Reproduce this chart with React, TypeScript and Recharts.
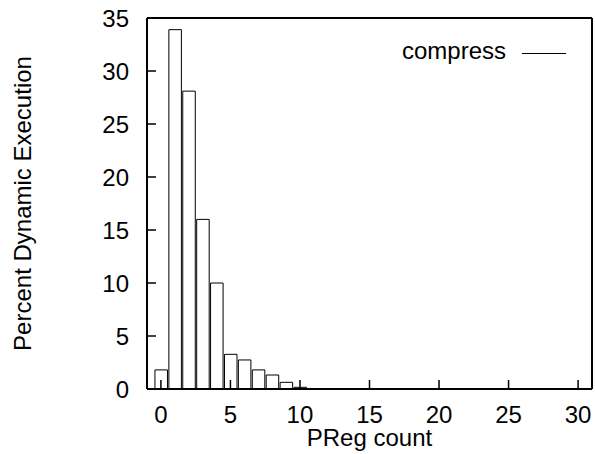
import React from 'react';
import { BarChart, Bar, XAxis, YAxis, Legend } from 'recharts';

const pregCounts = [0, 1, 2, 3, 4, 5, 6, 7, 8, 9, 10];
const percentExec = [1.8, 33.9, 28.1, 16.0, 10.0, 3.27, 2.74, 1.8, 1.32, 0.63, 0.16];
const xTicks = [0, 5, 10, 15, 20, 25, 30];
const yTicks = [0, 5, 10, 15, 20, 25, 30, 35];
const seriesName = 'compress';
const xLabel = 'PReg count';
const yLabel = 'Percent Dynamic Execution';

const data = pregCounts.map((c, i) => ({ count: c, value: percentExec[i] }));

const W = 595;
const H = 454;
const LEFT = 147;
const RIGHT = 3;
const TOP = 18;
const BOTTOM = 65;
const XMIN = -1;
const XMAX = 31;
const PLOT_W = W - LEFT - RIGHT;
const FONT = '"Liberation Sans", Arial, Helvetica, sans-serif';
const FS = 24;

const tickStyle = { fontFamily: FONT, fontSize: FS, fill: '#000' };
const axisLineStyle = { stroke: '#000', strokeWidth: 2 };
const tickLineStyle = { stroke: '#000', strokeWidth: 1.5 };

const LegendContent = () => (
  <div style={{ display: 'flex', alignItems: 'flex-start', fontFamily: FONT, fontSize: FS, lineHeight: '24px', color: '#000', whiteSpace: 'nowrap' }}>
    <span>{seriesName}</span>
    <svg width={60} height={24} style={{ display: 'block' }}>
      <line x1={16} x2={60} y1={14.5} y2={14.5} stroke="#000" strokeWidth={1} />
    </svg>
  </div>
);

const YLabel = (props: any) => {
  const vb = props.viewBox || { x: 0, y: 0, width: 0, height: 0 };
  const x = vb.x + 31;
  const y = vb.y + vb.height / 2;
  return (
    <text x={x} y={y} transform={`rotate(-90 ${x} ${y})`} textAnchor="middle" fontFamily={FONT} fontSize={FS} fill="#000">
      {yLabel}
    </text>
  );
};

const XLabel = (props: any) => {
  const vb = props.viewBox || { x: 0, y: 0, width: 0, height: 0 };
  const x = vb.x + vb.width / 2;
  const y = vb.y + 57;
  return (
    <text x={x} y={y} textAnchor="middle" fontFamily={FONT} fontSize={FS} fill="#000">
      {xLabel}
    </text>
  );
};

export default function App() {
  return (
    <div style={{ position: 'absolute', left: 0, top: 0, width: W, height: H, background: '#fff' }}>
      <BarChart
        width={W}
        height={H}
        data={data}
        margin={{ top: 0, right: 0, bottom: 0, left: 0 }}
        barGap={0}
        barCategoryGap={0}
      >
        <XAxis
          xAxisId="bottom"
          dataKey="count"
          type="number"
          domain={[XMIN, XMAX]}
          ticks={xTicks}
          allowDataOverflow
          orientation="bottom"
          height={BOTTOM}
          tickSize={-9}
          tickMargin={26}
          tick={tickStyle}
          axisLine={axisLineStyle}
          tickLine={tickLineStyle}
          interval={0}
          label={<XLabel />}
        />
        <XAxis
          xAxisId="top"
          dataKey="count"
          type="number"
          domain={[XMIN, XMAX]}
          ticks={xTicks}
          allowDataOverflow
          orientation="top"
          height={TOP}
          tickSize={-9}
          tick={false}
          axisLine={axisLineStyle}
          tickLine={tickLineStyle}
          interval={0}
        />
        <YAxis
          yAxisId="left"
          type="number"
          domain={[0, 35]}
          ticks={yTicks}
          orientation="left"
          width={LEFT}
          tickSize={-9}
          tickMargin={27}
          tick={tickStyle}
          axisLine={axisLineStyle}
          tickLine={tickLineStyle}
          interval={0}
          label={<YLabel />}
        />
        <YAxis
          yAxisId="right"
          type="number"
          domain={[0, 35]}
          ticks={yTicks}
          orientation="right"
          width={RIGHT}
          tickSize={-9}
          tick={false}
          axisLine={axisLineStyle}
          tickLine={tickLineStyle}
          interval={0}
        />
        <Legend
          layout="horizontal"
          verticalAlign="middle"
          align="center"
          content={<LegendContent />}
          wrapperStyle={{ top: 39, left: 402, width: 170, height: 24 }}
        />
        <Bar
          xAxisId="bottom"
          yAxisId="left"
          dataKey="value"
          name={seriesName}
          fill="#fff"
          stroke="#000"
          strokeWidth={1}
          barSize={PLOT_W / (XMAX - XMIN)}
          isAnimationActive={false}
        />
      </BarChart>
    </div>
  );
}
